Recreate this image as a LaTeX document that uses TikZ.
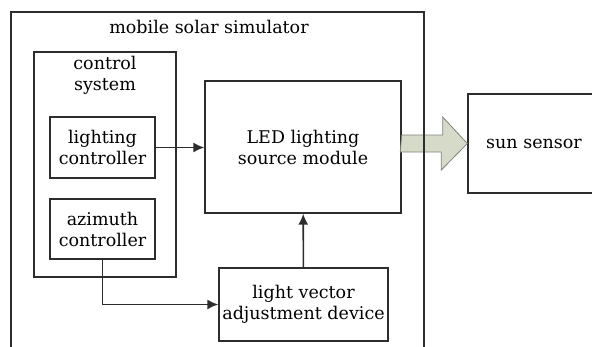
\documentclass[tikz,border=0pt]{standalone}
\usepackage{fontspec}
\setmainfont{DejaVu Serif}
\usepackage{tikz}
\usetikzlibrary{positioning, arrows.meta}
\definecolor{boxline}{RGB}{45,45,45}
\definecolor{arrowfill}{RGB}{214,219,201}
\definecolor{arrowline}{RGB}{125,130,118}

\begin{document}
\begin{tikzpicture}[x=1pt, y=-1pt, >={Latex[length=11pt, width=10pt]},
    every node/.style={font=\fontsize{17.5}{21}\selectfont, align=center, inner sep=0pt},
    block/.style={draw=boxline, line width=1.4pt, rectangle},
    conn/.style={->, draw=boxline, line width=1.6pt},
    bigarrow/.style={fill=arrowfill, draw=arrowline, line width=0.8pt}]
    \clip (0,0) rectangle (592,346);
    \node[block, minimum width=196, minimum height=132] (led) at (303,147) {LED lighting\\source module};
    \node[block, minimum width=132, minimum height=99] (sun) at (534,143.5) {sun sensor};
    
    \draw[bigarrow] (led.east |- sun.west) ++(0,-8.5) -- ++(41,0) -- ++(0,-18) -- (sun.west)
        -- ++(-26,26.5) -- ++(0,-18) -- ++(-41,0) -- cycle;
    
    \node[block, minimum width=413, minimum height=348] (sim) at (217.5,186) {};
    \node (simtitle) at (209,27) {mobile solar simulator};
    \node[block, minimum width=142, minimum height=225] (ctrl) at (105,164.5) {};
    \node (ctrltitle) at (105,75) {control\\system};
    \node[block, minimum width=105, minimum height=61] (light) at (102.5,147.5) {lighting\\controller};
    \node[block, minimum width=105, minimum height=60] (azim) at (102.5,229) {azimuth\\controller};
    \node[block, minimum width=169, minimum height=73] (vec) at (303.5,304.5) {light vector\\adjustment device};
    
    \draw[conn] (light.east) -- (light.east -| led.west);
    \draw[conn] (vec) -- (led);
    \draw[conn] (azim.south) |- (vec.west);
\end{tikzpicture}
\end{document}
